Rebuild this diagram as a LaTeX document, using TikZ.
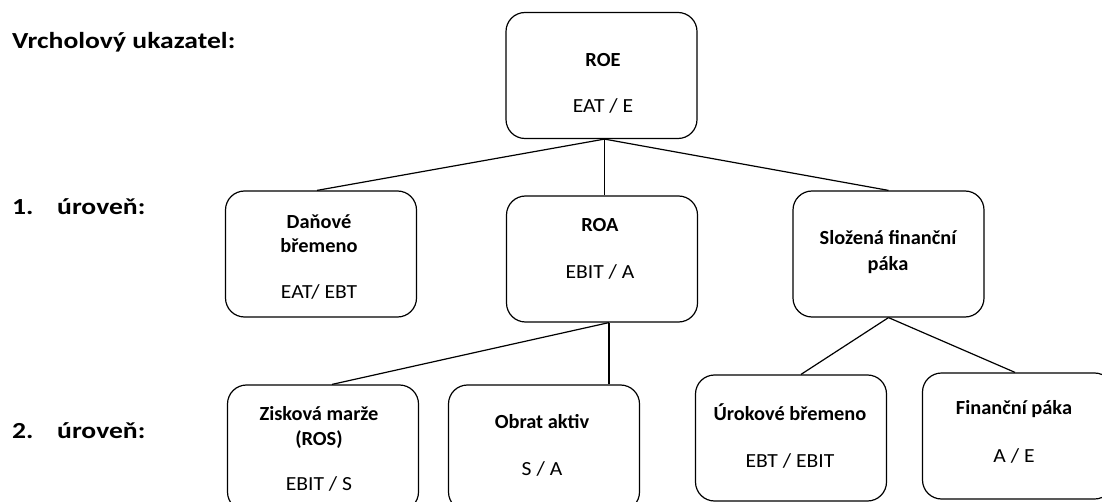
\documentclass[tikz,border=0pt]{standalone}
\usepackage{fontspec}
\setmainfont{Carlito}
\newfontfamily\lblfont[FakeStretch=1.2]{Carlito}
\newfontfamily\regfont[FakeStretch=1.08]{Carlito}
\newfontfamily\ttlfont[FakeStretch=1.02]{Carlito}
\usetikzlibrary{calc}
\begin{document}
\begin{tikzpicture}[x=1pt,y=-1pt,
  box/.style={draw, rounded corners=19pt, line width=1.2pt, minimum width=191pt, minimum height=126pt, inner sep=0pt},
  ttl/.style={font=\ttlfont\bfseries\fontsize{20}{24}\selectfont, anchor=base, inner sep=0pt},
  frm/.style={font=\regfont\fontsize{20}{24}\selectfont, anchor=base, inner sep=0pt},
  lvl/.style={font=\lblfont\bfseries\fontsize{23}{27}\selectfont, anchor=base west, inner sep=0pt},
  link/.style={line width=1.2pt}]
\useasboundingbox (0,0) rectangle (1102,502);
\clip (0,0) rectangle (1102,502);

% level labels
\node[lvl] (top) at (12,49) {Vrcholový ukazatel:};
\node[lvl] (l1n) at (12,215) {1.};
\node[lvl] (l1) at (57,215) {úroveň:};
\node[lvl] (l2n) at (12,438) {2.};
\node[lvl] (l2) at (57,438) {úroveň:};

% boxes
\node[box] (roe) at (601.5,75.5) {};
\node[box] (dan) at (321,254) {};
\node[box] (roa) at (602,259) {};
\node[box] (slo) at (888.5,254) {};
\node[box] (zis) at (323,448) {};
\node[box] (obr) at (544,448) {};
\node[box] (uro) at (791,438) {};
\node[box] (fin) at (1018,436) {};

% texts
\node[ttl] (roeT) at (603,67) {ROE};
\node[frm] (roeF) at (603,113) {EAT / E};
\node[ttl] (danT1) at (319,229) {Daňové};
\node[ttl] (danT2) at (319,253) {břemeno};
\node[frm] (danF) at (319,299) {EAT/ EBT};
\node[ttl] (roaT) at (600,232) {ROA};
\node[frm] (roaF) at (600,279) {EBIT / A};
\node[ttl] (sloT1) at (888,245) {Složená finanční};
\node[ttl] (sloT2) at (888,271) {páka};
\node[ttl] (zisT1) at (319,420) {Zisková marže};
\node[ttl] (zisT2) at (319,445) {(ROS)};
\node[frm] (zisF) at (319,490) {EBIT / S};
\node[ttl] (obrT) at (542,428) {Obrat aktiv};
\node[frm] (obrF) at (542,475) {S / A};
\node[ttl] (uroT) at (790,420) {Úrokové břemeno};
\node[frm] (uroF) at (790,467) {EBT / EBIT};
\node[ttl] (finT) at (1014,414) {Finanční páka};
\node[frm] (finF) at (1014,462) {A / E};

% connectors
\coordinate (roeb) at ($(roe.south)+(3,0)$);
\draw[link] (roeb) -- ($(dan.north)+(-4,0)$);
\draw[link] (roeb) -- (roeb |- roa.north);
\draw[link] (roeb) -- (slo.north);
\coordinate (roab) at ($(roa.south)+(7,0)$);
\draw[link] (roab) -- ($(zis.north)+(9,0)$);
\draw[link] (roab) -- (roab |- obr.north);
\draw[link] (slo.south) -- ($(uro.north)+(10,0)$);
\draw[link] (slo.south) -- ($(fin.north)+(-3,0)$);
\end{tikzpicture}
\end{document}
